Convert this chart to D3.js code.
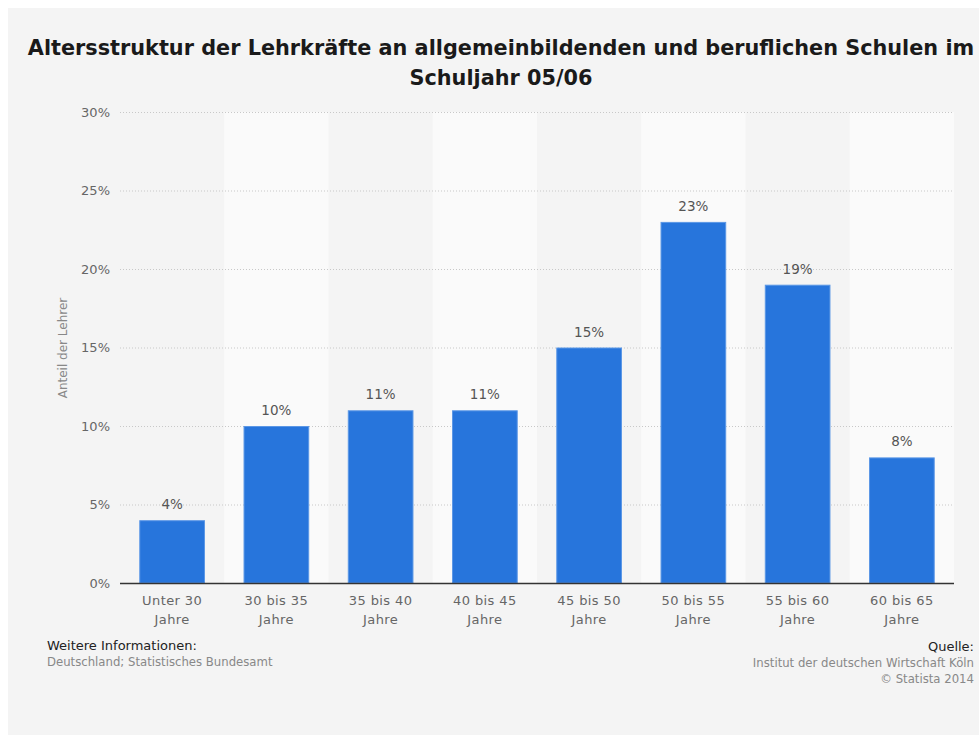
<!DOCTYPE html>
<html>
<head>
<meta charset="utf-8">
<script src="https://cdn.jsdelivr.net/npm/d3@7"></script>
<style>
	body { margin: 0; background: #fff; }
	svg { display: block; font-family: "DejaVu Sans", sans-serif; }
</style>
</head>
<body>
<svg id="chart" width="979" height="735"></svg>
<script>
var categories = [["Unter 30", "Jahre"], ["30 bis 35", "Jahre"], ["35 bis 40", "Jahre"], ["40 bis 45", "Jahre"],
	["45 bis 50", "Jahre"], ["50 bis 55", "Jahre"], ["55 bis 60", "Jahre"], ["60 bis 65", "Jahre"]];
var values = [4, 10, 11, 11, 15, 23, 19, 8];
var yTicks = [0, 5, 10, 15, 20, 25, 30];
var titleLines = ["Altersstruktur der Lehrkräfte an allgemeinbildenden und beruflichen Schulen im", "Schuljahr 05/06"];
var yTitle = "Anteil der Lehrer";
var footLeft = ["Weitere Informationen:", "Deutschland; Statistisches Bundesamt"];
var footRight = ["Quelle:", "Institut der deutschen Wirtschaft Köln", "© Statista 2014"];

var svg = d3.select("#chart");
var plotLeft = 120, plotRight = 954, plotTop = 112, plotBottom = 583;

svg.append("rect").attr("x", 8).attr("y", 8).attr("width", 971).attr("height", 727).attr("fill", "#f4f4f4");

var x = d3.scaleBand().domain(d3.range(categories.length)).range([plotLeft, plotRight]).paddingInner(0.37).paddingOuter(0.185);
var xBand = d3.scaleBand().domain(d3.range(categories.length)).range([plotLeft, plotRight]);
var y = d3.scaleLinear().domain([0, 30]).range([plotBottom, plotTop]);

// alternating column bands
svg.append("g").selectAll("rect")
	.data(d3.range(categories.length).filter(function(i) { return i % 2 === 1; }))
	.enter().append("rect")
	.attr("x", function(i) { return xBand(i); })
	.attr("y", plotTop)
	.attr("width", xBand.bandwidth())
	.attr("height", plotBottom - plotTop)
	.attr("fill", "#fafafa");

// grid
svg.append("g").selectAll("line")
	.data(yTicks.slice(1))
	.enter().append("line")
	.attr("x1", plotLeft).attr("x2", plotRight)
	.attr("y1", function(d) { return y(d) + 0.5; })
	.attr("y2", function(d) { return y(d) + 0.5; })
	.attr("stroke", "#c8c8c8")
	.attr("stroke-dasharray", "1,2");

// y tick labels
var yAxis = d3.axisLeft(y).tickValues(yTicks).tickFormat(function(d) { return d + "%"; }).tickSize(0).tickPadding(0);
var yg = svg.append("g").attr("transform", "translate(110,0)").call(yAxis);
yg.select(".domain").remove();
yg.selectAll("text").attr("fill", "#666").style("font-size", "13px").style("font-family", "DejaVu Sans");

// bars
svg.append("g").selectAll("rect")
	.data(values)
	.enter().append("rect")
	.attr("x", function(d, i) { return x(i) + 0.5; })
	.attr("y", function(d) { return y(d) + 0.5; })
	.attr("width", x.bandwidth() - 1)
	.attr("height", function(d) { return plotBottom - y(d) - 0.5; })
	.attr("fill", "#2775dc")
	.attr("stroke", "#5b97e6")
	.attr("stroke-width", 1);

// value labels
svg.append("g").selectAll("text")
	.data(values)
	.enter().append("text")
	.attr("x", function(d, i) { return x(i) + x.bandwidth() / 2; })
	.attr("y", function(d) { return y(d) - 11; })
	.attr("text-anchor", "middle")
	.attr("fill", "#555")
	.style("font-size", "13.5px")
	.text(function(d) { return d + "%"; });

// x axis line
svg.append("line").attr("x1", plotLeft).attr("x2", plotRight).attr("y1", plotBottom + 0.5).attr("y2", plotBottom + 0.5)
	.attr("stroke", "#333").attr("stroke-width", 1.5);

// x labels
var xl = svg.append("g").selectAll("text")
	.data(categories)
	.enter().append("text")
	.attr("text-anchor", "middle")
	.attr("fill", "#666")
	.style("font-size", "13px")
	.style("letter-spacing", "0.4px");
xl.each(function(d, i) {
	var t = d3.select(this);
	d.forEach(function(line, j) {
		t.append("tspan").attr("x", x(i) + x.bandwidth() / 2).attr("y", 605 + j * 19).text(line);
	});
});

// y title
svg.append("text")
	.attr("transform", "translate(67,348) rotate(-90)")
	.attr("text-anchor", "middle")
	.attr("fill", "#888")
	.style("font-size", "12px")
	.text(yTitle);

// title
svg.append("g").selectAll("text")
	.data(titleLines)
	.enter().append("text")
	.attr("x", 501)
	.attr("y", function(d, i) { return 55 + i * 30; })
	.attr("text-anchor", "middle")
	.attr("fill", "#1a1a1a")
	.style("font-size", "20.8px")
	.style("font-weight", "bold")
	.text(function(d) { return d; });

// footer
svg.append("g").selectAll("text")
	.data(footLeft)
	.enter().append("text")
	.attr("x", 47)
	.attr("y", function(d, i) { return 650 + i * 16; })
	.attr("fill", function(d, i) { return i === 0 ? "#222" : "#888"; })
	.style("font-size", function(d, i) { return i === 0 ? "13px" : "11.7px"; })
	.text(function(d) { return d; });

svg.append("g").selectAll("text")
	.data(footRight)
	.enter().append("text")
	.attr("x", 974)
	.attr("y", function(d, i) { return 651 + i * 16; })
	.attr("text-anchor", "end")
	.attr("fill", function(d, i) { return i === 0 ? "#222" : "#888"; })
	.style("font-size", function(d, i) { return i === 0 ? "13px" : "11.7px"; })
	.text(function(d) { return d; });
</script>
</body>
</html>
